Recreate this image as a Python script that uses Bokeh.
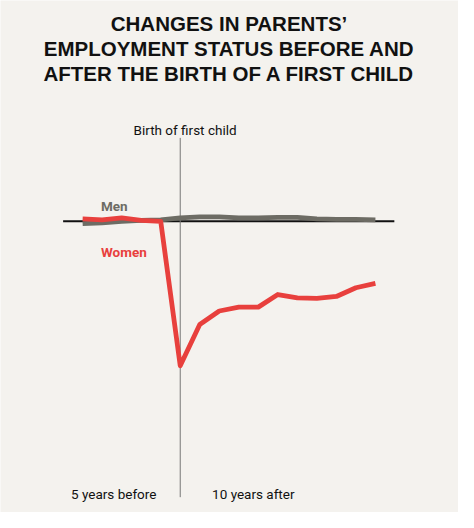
from bokeh.plotting import figure
from bokeh.models import Label, Range1d, ColumnDataSource
from bokeh.embed import file_html
from bokeh.resources import INLINE

# Years relative to the birth of the first child
years = [-5, -4, -3, -2, -1, 0, 1, 2, 3, 4, 5, 6, 7, 8, 9, 10]
# Change in employment (percentage points)
women = [0.5, 0.3, 0.7, 0.2, 0.0, -29.8, -21.3, -18.5, -17.7, -17.7,
         -15.1, -15.8, -15.9, -15.5, -13.7, -12.8]
men = [-0.5, -0.3, 0.0, 0.2, 0.3, 0.7, 0.9, 0.9, 0.7, 0.7,
       0.8, 0.8, 0.5, 0.4, 0.4, 0.3]

title_lines = ["CHANGES IN PARENTS\u2019",
               "EMPLOYMENT STATUS BEFORE AND",
               "AFTER THE BIRTH OF A FIRST CHILD"]
event_label = "Birth of first child"
start_label = "5 years before"
end_label = "10 years after"

BG = "#f4f2ee"
RED = "#e8403d"
GREY = "#6d6c64"
W, H = 458, 512
SX, SY = W / 474, H / 528  # reference-pixel to figure-pixel scale

p = figure(width=W, height=H, output_backend="svg", toolbar_location=None,
           x_range=Range1d(-9.208, 14.257), y_range=Range1d(-60.06, 45.54),
           min_border=0, background_fill_color=BG, border_fill_color=BG)
p.xaxis.visible = False
p.yaxis.visible = False
p.grid.visible = False
p.outline_line_color = None

xmin, xmax = min(years), max(years)
# zero baseline
p.segment(x0=[xmin - 1.0], y0=[0], x1=[xmax + 0.97], y1=[0],
          line_color="#111111", line_width=2)
# birth marker line
p.segment(x0=[0], y0=[17.2], x1=[0], y1=[-56.9],
          line_color="#777777", line_width=1)

src = ColumnDataSource(dict(x=years, w=women, m=men))
p.line("x", "m", source=src, line_color=GREY, line_width=4.8, line_join="round")
p.line("x", "w", source=src, line_color=RED, line_width=4.8, line_join="round")

# title
title_base = [23.3, 49.3, 75.7]
for t, yb in zip(title_lines, title_base):
    p.add_layout(Label(x=236.5 * SX, y=H - yb * SY,
                       x_units="screen", y_units="screen", text=t,
                       text_align="center", text_baseline="alphabetic",
                       text_font="Liberation Sans", text_font_style="bold",
                       text_font_size="20.5px", text_color="#111111"))

def lab(x, y, t, color="#111111", size="13.5px", style="normal", align="left"):
    p.add_layout(Label(x=x * SX, y=H - y * SY, x_units="screen", y_units="screen",
                       text=t, text_align=align, text_baseline="alphabetic",
                       text_font="Roboto", text_font_style=style,
                       text_font_size=size, text_color=color))

lab(191, 133.3, event_label, align="center")
lab(104, 211.5, "Men", color=GREY, style="bold")
lab(104, 259, "Women", color=RED, style="bold")
lab(73, 509, start_label)
lab(219, 509, end_label)

open("out.html", "w").write(file_html(p, INLINE))
